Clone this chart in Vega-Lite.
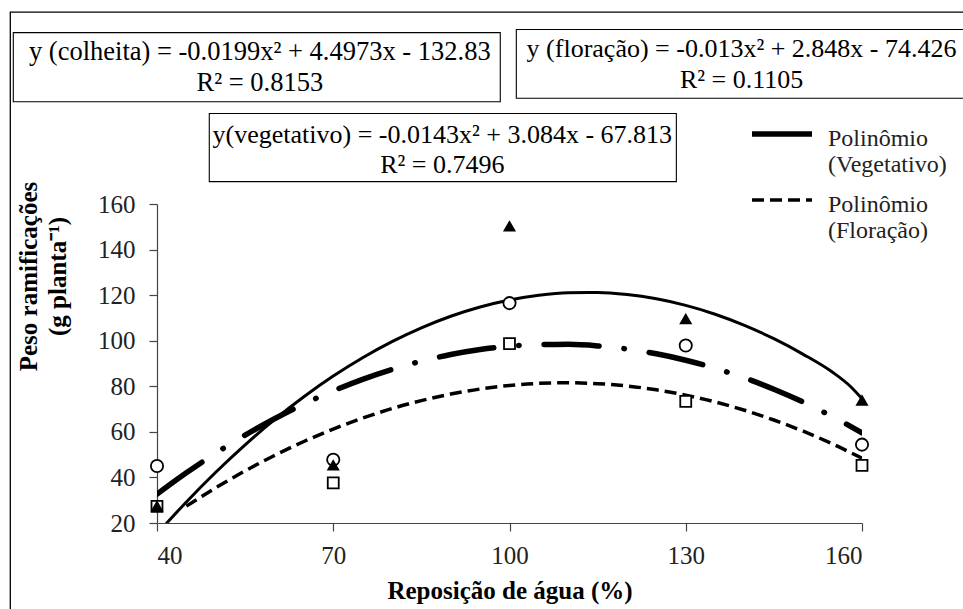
{
  "$schema": "https://vega.github.io/schema/vega-lite/v6.json",
  "width": 705,
  "height": 319,
  "autosize": "none",
  "padding": {"left": 157, "top": 204, "right": 101, "bottom": 86},
  "background": "white",
  "config": {
    "view": {"stroke": null}
  },
  "datasets": {
    "anotacao": [{}],
    "curvas": [
      {"x": 40, "y": 15.22, "serie": "Colheita"},
      {"x": 45, "y": 29.25, "serie": "Colheita"},
      {"x": 50, "y": 42.29, "serie": "Colheita"},
      {"x": 55, "y": 54.32, "serie": "Colheita"},
      {"x": 60, "y": 65.37, "serie": "Colheita"},
      {"x": 65, "y": 75.41, "serie": "Colheita"},
      {"x": 70, "y": 84.47, "serie": "Colheita"},
      {"x": 75, "y": 92.53, "serie": "Colheita"},
      {"x": 80, "y": 99.59, "serie": "Colheita"},
      {"x": 85, "y": 105.66, "serie": "Colheita"},
      {"x": 90, "y": 110.74, "serie": "Colheita"},
      {"x": 95, "y": 114.81, "serie": "Colheita"},
      {"x": 100, "y": 117.9, "serie": "Colheita"},
      {"x": 105, "y": 119.99, "serie": "Colheita"},
      {"x": 110, "y": 121.08, "serie": "Colheita"},
      {"x": 115, "y": 121.18, "serie": "Colheita"},
      {"x": 120, "y": 120.29, "serie": "Colheita"},
      {"x": 125, "y": 118.39, "serie": "Colheita"},
      {"x": 130, "y": 115.51, "serie": "Colheita"},
      {"x": 135, "y": 111.63, "serie": "Colheita"},
      {"x": 140, "y": 106.75, "serie": "Colheita"},
      {"x": 145, "y": 100.88, "serie": "Colheita"},
      {"x": 150, "y": 94.02, "serie": "Colheita"},
      {"x": 155, "y": 86.15, "serie": "Colheita"},
      {"x": 158, "y": 80.0, "serie": "Colheita"},
      {"x": 160, "y": 74.5, "serie": "Colheita"},
      {"x": 40, "y": 32.67, "serie": "Vegetativo"},
      {"x": 45, "y": 42.01, "serie": "Vegetativo"},
      {"x": 50, "y": 50.64, "serie": "Vegetativo"},
      {"x": 55, "y": 58.55, "serie": "Vegetativo"},
      {"x": 60, "y": 65.75, "serie": "Vegetativo"},
      {"x": 65, "y": 72.23, "serie": "Vegetativo"},
      {"x": 70, "y": 78.0, "serie": "Vegetativo"},
      {"x": 75, "y": 83.05, "serie": "Vegetativo"},
      {"x": 80, "y": 87.39, "serie": "Vegetativo"},
      {"x": 85, "y": 91.01, "serie": "Vegetativo"},
      {"x": 90, "y": 93.92, "serie": "Vegetativo"},
      {"x": 95, "y": 96.11, "serie": "Vegetativo"},
      {"x": 100, "y": 97.59, "serie": "Vegetativo"},
      {"x": 105, "y": 98.35, "serie": "Vegetativo"},
      {"x": 110, "y": 98.4, "serie": "Vegetativo"},
      {"x": 115, "y": 97.73, "serie": "Vegetativo"},
      {"x": 120, "y": 96.35, "serie": "Vegetativo"},
      {"x": 125, "y": 94.25, "serie": "Vegetativo"},
      {"x": 130, "y": 91.44, "serie": "Vegetativo"},
      {"x": 135, "y": 87.91, "serie": "Vegetativo"},
      {"x": 140, "y": 83.67, "serie": "Vegetativo"},
      {"x": 145, "y": 78.71, "serie": "Vegetativo"},
      {"x": 150, "y": 73.04, "serie": "Vegetativo"},
      {"x": 155, "y": 66.65, "serie": "Vegetativo"},
      {"x": 160, "y": 59.55, "serie": "Vegetativo"},
      {"x": 45, "y": 27.4, "serie": "Floração"},
      {"x": 50, "y": 35.47, "serie": "Floração"},
      {"x": 55, "y": 42.88, "serie": "Floração"},
      {"x": 60, "y": 49.65, "serie": "Floração"},
      {"x": 65, "y": 55.76, "serie": "Floração"},
      {"x": 70, "y": 61.23, "serie": "Floração"},
      {"x": 75, "y": 66.04, "serie": "Floração"},
      {"x": 80, "y": 70.21, "serie": "Floração"},
      {"x": 85, "y": 73.72, "serie": "Floração"},
      {"x": 90, "y": 76.59, "serie": "Floração"},
      {"x": 95, "y": 78.8, "serie": "Floração"},
      {"x": 100, "y": 80.37, "serie": "Floração"},
      {"x": 105, "y": 81.28, "serie": "Floração"},
      {"x": 110, "y": 81.55, "serie": "Floração"},
      {"x": 115, "y": 81.16, "serie": "Floração"},
      {"x": 120, "y": 80.13, "serie": "Floração"},
      {"x": 125, "y": 78.44, "serie": "Floração"},
      {"x": 130, "y": 76.11, "serie": "Floração"},
      {"x": 135, "y": 73.12, "serie": "Floração"},
      {"x": 140, "y": 69.49, "serie": "Floração"},
      {"x": 145, "y": 65.2, "serie": "Floração"},
      {"x": 150, "y": 60.27, "serie": "Floração"},
      {"x": 155, "y": 54.68, "serie": "Floração"},
      {"x": 160, "y": 48.45, "serie": "Floração"}
    ],
    "pontos": [
      {"x": 40, "y": 45, "tipo": "circ"},
      {"x": 70, "y": 47.8, "tipo": "circ"},
      {"x": 100, "y": 116.5, "tipo": "circ"},
      {"x": 130, "y": 97.9, "tipo": "circ"},
      {"x": 160, "y": 54.4, "tipo": "circ"},
      {"x": 40, "y": 27.3, "tipo": "sq"},
      {"x": 70, "y": 37.6, "tipo": "sq"},
      {"x": 100, "y": 98.7, "tipo": "sq"},
      {"x": 130, "y": 73.4, "tipo": "sq"},
      {"x": 160, "y": 45.3, "tipo": "sq"},
      {"x": 40, "y": 27.3, "tipo": "tri"},
      {"x": 70, "y": 45.3, "tipo": "tri"},
      {"x": 100, "y": 150.2, "tipo": "tri"},
      {"x": 130, "y": 109.5, "tipo": "tri"},
      {"x": 160, "y": 73.8, "tipo": "tri"}
    ]
  },
  "layer": [
    {
      "data": {"name": "anotacao"},
      "mark": {"type": "rect", "fill": null, "stroke": "black", "strokeWidth": 1.3},
      "encoding": {
        "x": {"datum": 15.03, "type": "quantitative", "scale": {"domain": [40, 160]}},
        "x2": {"datum": 300},
        "y": {"datum": 244.2, "type": "quantitative", "scale": {"domain": [20, 160]}},
        "y2": {"datum": -200}
      }
    },
    {
      "data": {"name": "anotacao"},
      "mark": {"type": "rect", "fill": "white", "stroke": "black", "strokeWidth": 1.1},
      "encoding": {
        "x": {"datum": 15.54, "type": "quantitative"},
        "x2": {"datum": 98.43},
        "y": {"datum": 235.2, "type": "quantitative"},
        "y2": {"datum": 204.9}
      }
    },
    {
      "data": {"name": "anotacao"},
      "mark": {"type": "rect", "fill": "white", "stroke": "black", "strokeWidth": 1.1},
      "encoding": {
        "x": {"datum": 101.16, "type": "quantitative"},
        "x2": {"datum": 300},
        "y": {"datum": 236.6, "type": "quantitative"},
        "y2": {"datum": 206.4}
      }
    },
    {
      "data": {"name": "anotacao"},
      "mark": {"type": "rect", "fill": "white", "stroke": "black", "strokeWidth": 1.1},
      "encoding": {
        "x": {"datum": 48.9, "type": "quantitative"},
        "x2": {"datum": 128.4},
        "y": {"datum": 199.7, "type": "quantitative"},
        "y2": {"datum": 169.8}
      }
    },
    {
      "data": {"name": "anotacao"},
      "mark": {"type": "text", "font": "Liberation Serif", "fontSize": 26.5, "lineHeight": 31, "align": "center", "baseline": "middle", "color": "black"},
      "encoding": {
        "x": {"datum": 57.5, "type": "quantitative"},
        "y": {"datum": 226.8, "type": "quantitative"},
        "text": {"value": ["y (colheita) = -0.0199x² + 4.4973x - 132.83", "R² = 0.8153"]}
      }
    },
    {
      "data": {"name": "anotacao"},
      "mark": {"type": "text", "font": "Liberation Serif", "fontSize": 26, "lineHeight": 31, "align": "center", "baseline": "middle", "color": "black"},
      "encoding": {
        "x": {"datum": 139.5, "type": "quantitative"},
        "y": {"datum": 228.2, "type": "quantitative"},
        "text": {"value": ["y (floração) = -0.013x² + 2.848x - 74.426", "R² = 0.1105"]}
      }
    },
    {
      "data": {"name": "anotacao"},
      "mark": {"type": "text", "font": "Liberation Serif", "fontSize": 26, "lineHeight": 30, "align": "center", "baseline": "middle", "color": "black"},
      "encoding": {
        "x": {"datum": 88.56, "type": "quantitative"},
        "y": {"datum": 190.1, "type": "quantitative"},
        "text": {"value": ["y(vegetativo) = -0.0143x² + 3.084x - 67.813", "R² = 0.7496"]}
      }
    },
    {
      "data": {"name": "curvas"},
      "transform": [{"filter": "datum.serie === 'Colheita'"}],
      "mark": {"type": "line", "color": "black", "strokeWidth": 3, "clip": true, "interpolate": "monotone"},
      "encoding": {
        "x": {
          "field": "x", "type": "quantitative",
          "scale": {"domain": [40, 160]},
          "axis": {
            "values": [40, 70, 100, 130, 160],
            "title": "Reposição de água (%)",
            "grid": false,
            "labelFont": "Liberation Serif", "labelFontSize": 25, "labelColor": "#222",
            "labelPadding": 12, "tickSize": 8, "tickColor": "#444", "domainColor": "#444", "domainWidth": 1.2, "tickWidth": 1.2,
            "titleFont": "Liberation Serif", "titleFontSize": 25, "titleFontWeight": "bold", "titleColor": "black",
            "titleBaseline": "alphabetic", "titleY": 75
          }
        },
        "y": {
          "field": "y", "type": "quantitative",
          "scale": {"domain": [20, 160]},
          "axis": {
            "values": [20, 40, 60, 80, 100, 120, 140, 160],
            "title": ["Peso ramificações", "(g planta⁻¹)"],
            "grid": false,
            "labelFont": "Liberation Serif", "labelFontSize": 25, "labelColor": "#222",
            "labelPadding": 14, "tickSize": 8, "tickColor": "#444", "domainColor": "#444", "domainWidth": 1.2, "tickWidth": 1.2,
            "titleFont": "Liberation Serif", "titleFontSize": 25, "titleFontWeight": "bold", "titleColor": "black",
            "titleLineHeight": 29, "titleBaseline": "alphabetic", "titleAlign": "center", "titleAngle": 270,
            "titleX": -121, "titleY": 72
          }
        }
      }
    },
    {
      "data": {"name": "curvas"},
      "transform": [{"filter": "datum.serie === 'Vegetativo'"}],
      "mark": {"type": "line", "color": "black", "strokeWidth": 5.5, "strokeCap": "round", "strokeDash": [55, 25, 0.5, 25], "clip": true, "interpolate": "monotone"},
      "encoding": {
        "x": {"field": "x", "type": "quantitative"},
        "y": {"field": "y", "type": "quantitative"}
      }
    },
    {
      "data": {"name": "curvas"},
      "transform": [{"filter": "datum.serie === 'Floração'"}],
      "mark": {"type": "line", "color": "black", "clip": true, "interpolate": "monotone"},
      "encoding": {
        "x": {"field": "x", "type": "quantitative"},
        "y": {"field": "y", "type": "quantitative"},
        "strokeDash": {
          "field": "serie", "type": "nominal",
          "scale": {"domain": ["Vegetativo", "Floração"], "range": [[1, 0], [12, 6]]},
          "legend": {
            "title": null, "orient": "none", "legendX": 607, "legendY": -88, "padding": 0, "rowPadding": 6,
            "symbolType": "M-2,0H2", "symbolSize": 900, "symbolStrokeColor": "black",
            "labelOffset": 28, "labelFont": "Liberation Serif", "labelFontSize": 24, "labelColor": "#222",
            "labelBaseline": "alphabetic", "labelLimit": 0,
            "labelExpr": "['Polinômio', '(' + datum.label + ')']",
            "encoding": {"labels": {"dy": {"value": 12}}}
          }
        },
        "strokeWidth": {
          "field": "serie", "type": "nominal",
          "scale": {"type": "ordinal", "domain": ["Vegetativo", "Floração"], "range": [5.5, 3.5]},
          "legend": {
            "title": null, "orient": "none", "legendX": 607, "legendY": -88, "padding": 0, "rowPadding": 6,
            "symbolType": "M-2,0H2", "symbolSize": 900, "symbolStrokeColor": "black",
            "labelOffset": 28, "labelFont": "Liberation Serif", "labelFontSize": 24, "labelColor": "#222",
            "labelBaseline": "alphabetic", "labelLimit": 0,
            "labelExpr": "['Polinômio', '(' + datum.label + ')']",
            "encoding": {"labels": {"dy": {"value": 12}}}
          }
        }
      }
    },
    {
      "data": {"name": "pontos"},
      "mark": {"type": "point", "filled": true, "stroke": "black", "strokeWidth": 1.8, "opacity": 1},
      "encoding": {
        "x": {"field": "x", "type": "quantitative"},
        "y": {"field": "y", "type": "quantitative"},
        "shape": {"field": "tipo", "type": "nominal", "scale": {"domain": ["circ", "sq", "tri"], "range": ["circle", "square", "triangle-up"]}, "legend": null},
        "fill": {"field": "tipo", "type": "nominal", "scale": {"domain": ["circ", "sq", "tri"], "range": ["white", "white", "black"]}, "legend": null},
        "size": {"field": "tipo", "type": "nominal", "scale": {"type": "ordinal", "domain": ["circ", "sq", "tri"], "range": [150, 120, 100]}, "legend": null}
      }
    }
  ]
}
